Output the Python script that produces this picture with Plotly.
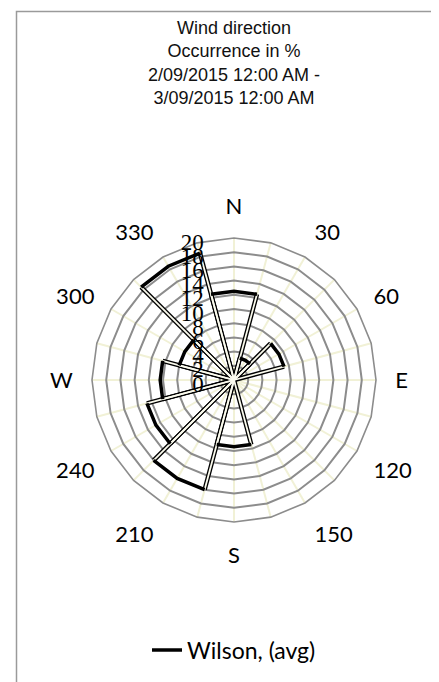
import plotly.graph_objects as go

# ---- data ----
sector_dirs = [0, 30, 60, 90, 120, 150, 180, 210, 240, 270, 300, 330]
occurrence = [12.5, 3.2, 7.3, 0.0, 0.0, 0.0, 9.4, 16.0, 12.7, 10.4, 8.0, 18.5]
sector_half_width = 15

angle_categories = [str(a) for a in range(0, 360, 15)]
angle_labels = ["N", "", "30", "", "60", "", "E", "", "120", "", "150", "",
                "S", "", "210", "", "240", "", "W", "", "300", "", "330", ""]
radial_ticks = list(range(0, 21, 2))

title_lines = ["Wind direction", "Occurrence in %", "2/09/2015 12:00 AM -", "3/09/2015 12:00 AM"]
series_name = "Wilson, (avg)"

W, H = 439, 682
CX, CY, R = 226, 372, 142


def cat(a):
    return str(int(a) % 360)


arc_r, arc_t, edge_r, edge_t = [], [], [], []
for d, v in zip(sector_dirs, occurrence):
    if v <= 0:
        continue
    arc_r += [v, v, v, None]
    arc_t += [cat(d - sector_half_width), cat(d), cat(d + sector_half_width), cat(d)]
    for e in (d - sector_half_width, d + sector_half_width):
        edge_r += [0, v, None]
        edge_t += [cat(e), cat(e), cat(e)]

fig = go.Figure()
fig.add_trace(go.Scatterpolar(r=edge_r, theta=edge_t, mode="lines",
                              line=dict(color="black", width=4.5),
                              showlegend=False, hoverinfo="skip"))
fig.add_trace(go.Scatterpolar(r=edge_r, theta=edge_t, mode="lines",
                              line=dict(color="#fbfbee", width=1.8),
                              showlegend=False, hoverinfo="skip"))
fig.add_trace(go.Scatterpolar(r=arc_r, theta=arc_t, mode="lines", name=series_name,
                              line=dict(color="black", width=3.5), connectgaps=False))

fig.update_layout(
    width=W, height=H, autosize=False,
    margin=dict(l=0, r=0, t=0, b=0),
    paper_bgcolor="white",
    title=dict(text="<br>".join(title_lines), x=CX / W, xanchor="center",
               y=1 - 26 / H, yanchor="top",
               font=dict(family="Liberation Sans", size=18, color="#111111")),
    polar=dict(
        domain=dict(x=[(CX - R) / W, (CX + R) / W],
                    y=[(H - CY - R) / H, (H - CY + R) / H]),
        bgcolor="white",
        gridshape="linear",
        angularaxis=dict(type="category", categoryorder="array",
                         categoryarray=angle_categories,
                         rotation=90, direction="clockwise",
                         tickmode="array", tickvals=angle_categories, ticktext=angle_labels,
                         showgrid=True, gridcolor="#f1f1d6", gridwidth=2,
                         showline=True, linecolor="#8c8c8c", linewidth=1.6,
                         ticks="outside", ticklen=14, tickcolor="rgba(0,0,0,0)",
                         tickfont=dict(family="Lato", size=22, color="black")),
        radialaxis=dict(range=[0, 20], tickmode="array", tickvals=radial_ticks,
                        angle=90, side="counterclockwise",
                        showgrid=True, gridcolor="#8c8c8c", gridwidth=1.6,
                        showline=False, ticks="outside", ticklen=9,
                        tickcolor="rgba(0,0,0,0)",
                        tickfont=dict(family="Liberation Serif", size=23, color="black")),
    ),
    showlegend=True,
    legend=dict(orientation="h", x=CX / W, xanchor="center", y=40 / H, yanchor="middle",
                font=dict(family="Lato", size=23, color="black"), bgcolor="rgba(0,0,0,0)"),
    shapes=[dict(type="rect", xref="paper", yref="paper",
                 x0=8.5 / W, x1=1.02, y0=-0.01, y1=1 - 3.5 / H,
                 line=dict(color="#9a9a9a", width=1.5), fillcolor="rgba(0,0,0,0)",
                 layer="below")],
)

fig.write_html("out.html")
